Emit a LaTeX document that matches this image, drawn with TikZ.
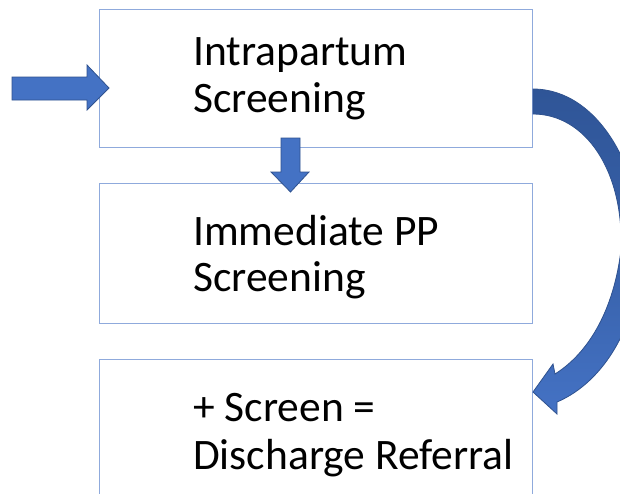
\documentclass[tikz,border=0pt]{standalone}
\usepackage{fontspec}
\setmainfont{Carlito}
\usetikzlibrary{calc}
\definecolor{boxline}{HTML}{8FAADC}
\definecolor{arrowfill}{HTML}{4472C4}
\definecolor{arrowdark}{HTML}{2F5597}
\definecolor{arrowline}{HTML}{2F528F}
\tikzset{
  stepbox/.style={draw=boxline, line width=1pt, rectangle, minimum width=433pt, inner sep=0pt, anchor=north west},
  label/.style={anchor=base west, inner sep=0pt, font=\fontsize{43.5}{48}\selectfont},
  blockarrow/.style={fill=arrowfill, draw=arrowline, line width=0.8pt, line join=miter},
}
\begin{document}
\begin{tikzpicture}[x=1pt,y=-1pt]
\useasboundingbox (0,0) rectangle (620,493);
\clip (0,0) rectangle (620,493);
\fill[white] (0,0) rectangle (620,493);
% boxes
\node[stepbox, minimum height=138pt] (box1) at (99,9) {};
\node[stepbox, minimum height=140pt] (box2) at (99,183) {};
\node[stepbox, minimum height=160pt] (box3) at (99,359) {};
% texts
\node[label] (t1a) at (193,65) {Intrapartum};
\node[label] (t1b) at (193,112) {Screening};
\node[label] (t2a) at (193,245) {Immediate PP};
\node[label] (t2b) at (193,291) {Screening};
\node[label] (t3a) at (193,421) {+ Screen =};
\node[label] (t3b) at (193,469) {Discharge Referral};
% left block arrow into box1
\coordinate (inStart) at (12,88);
\coordinate (inTip) at ($(box1.west |- inStart)+(10,0)$);
\draw[blockarrow] (12,77) -- (87,77) -- (87,65) -- (inTip) -- (87,110) -- (87,100) -- (12,100) -- cycle;
% down block arrow box1 -> box2
\coordinate (dnTop) at (290.5,138);
\coordinate (dnTip) at ($(dnTop |- box2.north)+(0,9)$);
\draw[blockarrow] (281,138) -- (300,138) -- (300,172) -- (309,172) -- (dnTip) -- (271,172) -- (281,172) -- cycle;
% curved block arrow box1 -> box3
\coordinate (cvTip) at ($(box3.east |- 0,392)$);
\path[draw=arrowline, line width=0.8pt, top color=arrowdark, bottom color=arrowfill, middle color=arrowdark!60!arrowfill]
  (box1.east |- 0,89)
  .. controls (598,89) and (644,170) .. (641,255)
  .. controls (638,325) and (604,382) .. (557,402)
  -- (557,414) -- (cvTip) -- (553,364) -- (555,374)
  .. controls (590,352) and (614,308) .. (621,250)
  .. controls (624,170) and (585,114) .. (box1.east |- 0,114)
  -- cycle;
\end{tikzpicture}
\end{document}
